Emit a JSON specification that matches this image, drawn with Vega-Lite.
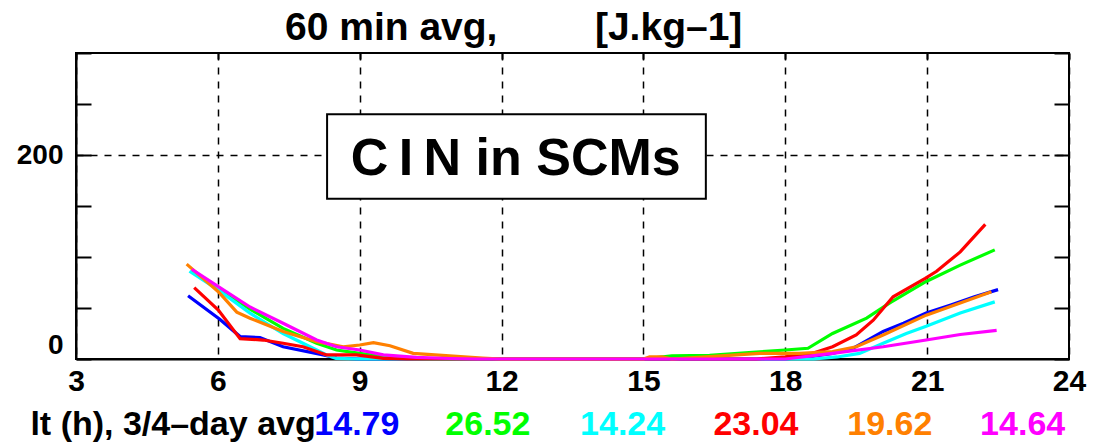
{
  "$schema": "https://vega.github.io/schema/vega-lite/v6.json",
  "width": 993,
  "height": 306,
  "autosize": "none",
  "padding": {"left": 76, "top": 53, "right": 25, "bottom": 86},
  "background": "white",
  "config": {"view": {"stroke": "black", "strokeWidth": 2}, "font": "Liberation Sans"},
  "datasets": {
    "lines": [
      {"run": "b", "h": 5.37, "v": 62}, {"run": "b", "h": 6.04, "v": 39}, {"run": "b", "h": 6.47, "v": 22}, {"run": "b", "h": 6.89, "v": 21}, {"run": "b", "h": 7.38, "v": 12}, {"run": "b", "h": 8.23, "v": 4}, {"run": "b", "h": 8.51, "v": 1}, {"run": "b", "h": 9, "v": 0}, {"run": "b", "h": 12, "v": 0}, {"run": "b", "h": 15, "v": 0}, {"run": "b", "h": 18, "v": 0}, {"run": "b", "h": 18.5, "v": 2}, {"run": "b", "h": 19, "v": 5.5}, {"run": "b", "h": 19.43, "v": 10.5}, {"run": "b", "h": 20.07, "v": 27}, {"run": "b", "h": 20.5, "v": 35}, {"run": "b", "h": 20.98, "v": 45}, {"run": "b", "h": 21.5, "v": 53}, {"run": "b", "h": 22, "v": 61}, {"run": "b", "h": 22.5, "v": 68},
      {"run": "g", "h": 5.45, "v": 87}, {"run": "g", "h": 6.0, "v": 70}, {"run": "g", "h": 6.68, "v": 49}, {"run": "g", "h": 7.38, "v": 30}, {"run": "g", "h": 8.09, "v": 15.4}, {"run": "g", "h": 8.51, "v": 8.8}, {"run": "g", "h": 9.0, "v": 5.5}, {"run": "g", "h": 9.5, "v": 2.3}, {"run": "g", "h": 10, "v": 0.5}, {"run": "g", "h": 10.5, "v": 0}, {"run": "g", "h": 15, "v": 0}, {"run": "g", "h": 15.6, "v": 3}, {"run": "g", "h": 16.4, "v": 3.5}, {"run": "g", "h": 17.46, "v": 7}, {"run": "g", "h": 18, "v": 8.8}, {"run": "g", "h": 18.48, "v": 10.5}, {"run": "g", "h": 19, "v": 25}, {"run": "g", "h": 19.72, "v": 40}, {"run": "g", "h": 20.21, "v": 55}, {"run": "g", "h": 20.98, "v": 76}, {"run": "g", "h": 21.7, "v": 92}, {"run": "g", "h": 22.43, "v": 107},
      {"run": "c", "h": 5.4, "v": 86}, {"run": "c", "h": 6.0, "v": 68}, {"run": "c", "h": 6.68, "v": 45}, {"run": "c", "h": 7.38, "v": 25}, {"run": "c", "h": 7.95, "v": 12}, {"run": "c", "h": 8.3, "v": 4}, {"run": "c", "h": 8.5, "v": 0.7}, {"run": "c", "h": 9, "v": 0}, {"run": "c", "h": 12, "v": 0}, {"run": "c", "h": 15, "v": 0}, {"run": "c", "h": 18, "v": 0}, {"run": "c", "h": 18.6, "v": 0}, {"run": "c", "h": 19.1, "v": 2}, {"run": "c", "h": 19.57, "v": 5.5}, {"run": "c", "h": 20.07, "v": 15.4}, {"run": "c", "h": 20.56, "v": 25}, {"run": "c", "h": 20.98, "v": 32}, {"run": "c", "h": 21.7, "v": 45}, {"run": "c", "h": 22.43, "v": 56},
      {"run": "r", "h": 5.5, "v": 70}, {"run": "r", "h": 6.01, "v": 48}, {"run": "r", "h": 6.47, "v": 20}, {"run": "r", "h": 6.96, "v": 18.6}, {"run": "r", "h": 7.38, "v": 15.4}, {"run": "r", "h": 7.8, "v": 12}, {"run": "r", "h": 8.3, "v": 4}, {"run": "r", "h": 8.93, "v": 4}, {"run": "r", "h": 9.5, "v": 0.7}, {"run": "r", "h": 10, "v": 0}, {"run": "r", "h": 12, "v": 0}, {"run": "r", "h": 15, "v": 0}, {"run": "r", "h": 17.39, "v": 0}, {"run": "r", "h": 18, "v": 2}, {"run": "r", "h": 18.58, "v": 5.6}, {"run": "r", "h": 19.0, "v": 12}, {"run": "r", "h": 19.5, "v": 23.5}, {"run": "r", "h": 19.86, "v": 38}, {"run": "r", "h": 20.28, "v": 61}, {"run": "r", "h": 20.96, "v": 79}, {"run": "r", "h": 21.2, "v": 86}, {"run": "r", "h": 21.7, "v": 105}, {"run": "r", "h": 22.23, "v": 132},
      {"run": "o", "h": 5.34, "v": 93}, {"run": "o", "h": 6.01, "v": 66}, {"run": "o", "h": 6.4, "v": 46}, {"run": "o", "h": 6.68, "v": 40}, {"run": "o", "h": 7.38, "v": 27}, {"run": "o", "h": 8.09, "v": 17}, {"run": "o", "h": 8.65, "v": 12}, {"run": "o", "h": 9.0, "v": 13.7}, {"run": "o", "h": 9.29, "v": 16}, {"run": "o", "h": 9.64, "v": 13}, {"run": "o", "h": 10.13, "v": 5.5}, {"run": "o", "h": 10.9, "v": 3}, {"run": "o", "h": 11.6, "v": 1}, {"run": "o", "h": 12, "v": 0}, {"run": "o", "h": 15, "v": 0}, {"run": "o", "h": 15.13, "v": 2}, {"run": "o", "h": 15.4, "v": 2}, {"run": "o", "h": 15.6, "v": 0}, {"run": "o", "h": 16.4, "v": 2.3}, {"run": "o", "h": 17.46, "v": 5.5}, {"run": "o", "h": 18.3, "v": 5.5}, {"run": "o", "h": 19.0, "v": 7.2}, {"run": "o", "h": 19.5, "v": 12}, {"run": "o", "h": 20.07, "v": 23.5}, {"run": "o", "h": 20.98, "v": 43}, {"run": "o", "h": 21.7, "v": 55}, {"run": "o", "h": 22.36, "v": 66},
      {"run": "m", "h": 5.45, "v": 88}, {"run": "m", "h": 6.01, "v": 71}, {"run": "m", "h": 6.68, "v": 51}, {"run": "m", "h": 7.38, "v": 35}, {"run": "m", "h": 8.09, "v": 18.6}, {"run": "m", "h": 8.51, "v": 12}, {"run": "m", "h": 9.0, "v": 8.8}, {"run": "m", "h": 9.5, "v": 4}, {"run": "m", "h": 10.2, "v": 1.6}, {"run": "m", "h": 10.9, "v": 0.5}, {"run": "m", "h": 11.5, "v": 0}, {"run": "m", "h": 15, "v": 0}, {"run": "m", "h": 18, "v": 0}, {"run": "m", "h": 19, "v": 5.5}, {"run": "m", "h": 20.07, "v": 12}, {"run": "m", "h": 20.98, "v": 18.6}, {"run": "m", "h": 21.7, "v": 24}, {"run": "m", "h": 22.47, "v": 28}
    ]
  },
  "resolve": {"axis": {"x": "independent", "y": "independent"}},
  "layer": [
    {
      "data": {"name": "lines"},
      "mark": {"type": "point", "opacity": 0},
      "encoding": {
        "x": {"field": "h", "type": "quantitative", "scale": {"domain": [3, 24], "nice": false, "zero": false},
          "axis": {"orient": "top", "values": [3, 6, 9, 12, 15, 18, 21, 24], "labels": false, "grid": false, "domain": false, "ticks": true, "tickSize": -6, "tickColor": "black", "tickWidth": 2, "title": null}},
        "y": {"field": "v", "type": "quantitative", "scale": {"domain": [0, 300], "nice": false},
          "axis": {"orient": "right", "values": [0, 50, 100, 150, 200, 250, 300], "labels": false, "grid": false, "domain": false, "ticks": true, "tickSize": -15, "tickColor": "black", "tickWidth": 2, "title": null}}
      }
    },
    {
      "data": {"name": "lines"},
      "mark": {"type": "line", "strokeWidth": 3.2},
      "encoding": {
        "x": {"field": "h", "type": "quantitative", "scale": {"domain": [3, 24], "nice": false, "zero": false},
          "axis": {"orient": "bottom", "values": [3, 6, 9, 12, 15, 18, 21, 24], "grid": true, "gridColor": "black", "gridDash": [7, 7], "gridWidth": 1.5, "gridOpacity": 1, "ticks": false, "domain": true, "domainColor": "black", "domainWidth": 2, "labelFont": "Liberation Sans", "labelFontSize": 30, "labelFontWeight": "bold", "labelColor": "black", "labelPadding": 7, "labelFlush": false, "labelOverlap": false, "title": null}},
        "y": {"field": "v", "type": "quantitative", "scale": {"domain": [0, 300], "nice": false},
          "axis": {"orient": "left", "values": [0, 50, 100, 150, 200, 250, 300], "labelExpr": "datum.value == 0 || datum.value == 200 ? datum.label : ''", "ticks": true, "tickSize": -15, "tickColor": "black", "tickWidth": 2, "domain": true, "domainColor": "black", "domainWidth": 2, "labelFont": "Liberation Sans", "labelFontSize": 28, "labelFontWeight": "bold", "labelColor": "black", "labelPadding": 28, "labelFlush": true, "labelOverlap": false, "grid": true, "gridColor": "black", "gridDash": [7, 7], "gridWidth": 1.5, "gridOpacity": {"condition": {"test": "datum.value == 200", "value": 1}, "value": 0}, "title": null}},
        "color": {"field": "run", "type": "nominal", "scale": {"domain": ["b", "g", "c", "r", "o", "m"], "range": ["#0000ff", "#00ff00", "#00ffff", "#ff0000", "#ff8000", "#ff00ff"]}, "legend": null}
      }
    },
    {
      "data": {"values": [{}]},
      "mark": {"type": "rect", "fill": "white", "stroke": "black", "strokeWidth": 2},
      "encoding": {
        "x": {"datum": 8.31, "type": "quantitative", "scale": {"domain": [3, 24], "nice": false, "zero": false}, "axis": null},
        "x2": {"datum": 16.32},
        "y": {"datum": 157, "type": "quantitative", "scale": {"domain": [0, 300], "nice": false}, "axis": null},
        "y2": {"datum": 240}
      }
    },
    {
      "data": {"values": [{}]},
      "mark": {"type": "text", "text": "C\u2009I\u2009N in SCMs", "font": "Liberation Sans", "fontSize": 52, "fontWeight": "bold", "align": "center", "baseline": "alphabetic", "color": "black"},
      "encoding": {
        "x": {"datum": 12.3, "type": "quantitative", "scale": {"domain": [3, 24], "nice": false, "zero": false}, "axis": null},
        "y": {"datum": 180.4, "type": "quantitative", "scale": {"domain": [0, 300], "nice": false}, "axis": null}
      }
    },
    {
      "data": {"values": [{}]},
      "mark": {"type": "text", "text": "60 min avg,\u00a0\u00a0\u00a0\u00a0\u00a0\u00a0\u00a0\u00a0\u00a0[J.kg\u20131]", "font": "Liberation Sans", "fontSize": 39, "fontWeight": "bold", "align": "left", "baseline": "alphabetic", "color": "black"},
      "encoding": {
        "x": {"datum": 7.42, "type": "quantitative", "scale": {"domain": [3, 24], "nice": false, "zero": false}, "axis": null},
        "y": {"datum": 312.7, "type": "quantitative", "scale": {"domain": [0, 300], "nice": false}, "axis": null}
      }
    },
    {
      "data": {"values": [{"label": "lt (h), 3/4\u2013day avg", "h": 8.07}]},
      "mark": {"type": "text", "font": "Liberation Sans", "fontSize": 34, "fontWeight": "bold", "align": "right", "baseline": "alphabetic", "color": "black"},
      "encoding": {
        "x": {"field": "h", "type": "quantitative", "scale": {"domain": [3, 24], "nice": false, "zero": false}, "axis": null},
        "y": {"datum": -74.5, "type": "quantitative", "scale": {"domain": [0, 300], "nice": false}, "axis": null},
        "text": {"field": "label"}
      }
    },
    {
      "data": {"values": [
        {"label": "14.79", "h": 8.94, "run": "b"},
        {"label": "26.52", "h": 11.71, "run": "g"},
        {"label": "14.24", "h": 14.56, "run": "c"},
        {"label": "23.04", "h": 17.38, "run": "r"},
        {"label": "19.62", "h": 20.21, "run": "o"},
        {"label": "14.64", "h": 23.02, "run": "m"}
      ]},
      "mark": {"type": "text", "font": "Liberation Sans", "fontSize": 34, "fontWeight": "bold", "align": "center", "baseline": "alphabetic"},
      "encoding": {
        "x": {"field": "h", "type": "quantitative", "scale": {"domain": [3, 24], "nice": false, "zero": false}, "axis": null},
        "y": {"datum": -74.5, "type": "quantitative", "scale": {"domain": [0, 300], "nice": false}, "axis": null},
        "text": {"field": "label"},
        "color": {"field": "run", "type": "nominal", "legend": null}
      }
    }
  ]
}
